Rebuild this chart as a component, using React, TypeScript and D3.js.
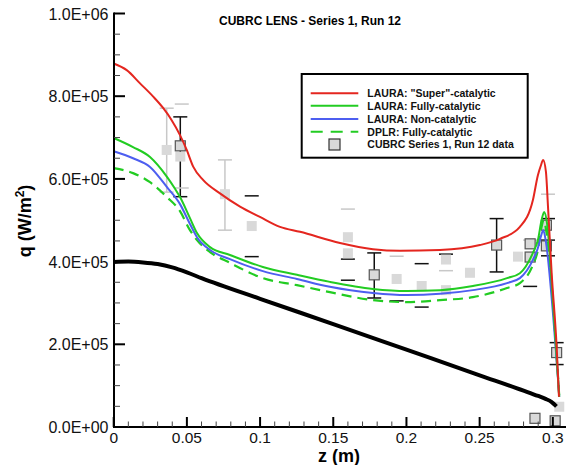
import React from "react";
import * as d3 from "d3";

const W = 566;
const H = 465;

const TITLE = "CUBRC LENS - Series 1, Run 12";
const X_TICKS = [0, 0.05, 0.1, 0.15, 0.2, 0.25, 0.3];
const X_TICK_LABELS = ["0", "0.05", "0.1", "0.15", "0.2", "0.25", "0.3"];
const Y_TICKS = [0, 2e5, 4e5, 6e5, 8e5, 1e6];
const Y_TICK_LABELS = ["0.0E+00", "2.0E+05", "4.0E+05", "6.0E+05", "8.0E+05", "1.0E+06"];

// LAURA "Super"-catalytic
const redZ = [0, 0.0089, 0.018, 0.027, 0.0339, 0.0396, 0.0453, 0.0499, 0.0544, 0.0612, 0.0726, 0.0863, 0.0999, 0.1136, 0.1273, 0.1546, 0.1771, 0.1956, 0.2229, 0.2502, 0.2639, 0.2775, 0.2864, 0.2898, 0.2919, 0.2934, 0.2953, 0.2967, 0.2992, 0.3026, 0.3042];
const redQ = [879e3, 863e3, 831e3, 799e3, 771e3, 742e3, 706e3, 670e3, 629e3, 597e3, 565e3, 533e3, 508e3, 484e3, 472e3, 445e3, 430e3, 426e3, 428e3, 440e3, 455e3, 484e3, 549e3, 609e3, 633e3, 646e3, 617e3, 533e3, 372e3, 194e3, 73e3];

// LAURA Fully-catalytic
const greenZ = [0, 0.0132, 0.0248, 0.0364, 0.0419, 0.0453, 0.0521, 0.0569, 0.0658, 0.0794, 0.1019, 0.1252, 0.1477, 0.1771, 0.2003, 0.2229, 0.2454, 0.2687, 0.2775, 0.2864, 0.2898, 0.2923, 0.2941, 0.2959, 0.3003, 0.3026, 0.3044];
const greenQ = [699e3, 677e3, 653e3, 605e3, 576e3, 556e3, 505e3, 469e3, 435e3, 416e3, 387e3, 368e3, 351e3, 334e3, 329e3, 331e3, 341e3, 360e3, 372e3, 421e3, 452e3, 500e3, 520e3, 496e3, 291e3, 170e3, 73e3];

// LAURA Non-catalytic
const blueZ = [0, 0.0132, 0.0248, 0.0364, 0.0453, 0.0521, 0.0569, 0.0658, 0.0794, 0.1019, 0.1252, 0.1477, 0.1771, 0.2003, 0.2229, 0.2454, 0.2687, 0.2775, 0.2864, 0.2898, 0.2921, 0.2935, 0.2951, 0.2999, 0.3026, 0.3044];
const blueQ = [667e3, 650e3, 629e3, 580e3, 539e3, 491e3, 459e3, 428e3, 406e3, 377e3, 358e3, 339e3, 324e3, 319e3, 322e3, 331e3, 348e3, 360e3, 404e3, 433e3, 464e3, 476e3, 452e3, 283e3, 162e3, 73e3];

// DPLR Fully-catalytic
const dplrZ = [0, 0.0132, 0.0248, 0.0364, 0.0453, 0.0521, 0.0569, 0.0658, 0.0794, 0.1019, 0.1252, 0.1477, 0.1771, 0.2003, 0.2229, 0.2454, 0.2687, 0.2775, 0.2864, 0.2898, 0.2921, 0.2938, 0.2959, 0.2999, 0.3026, 0.3044];
const dplrQ = [626e3, 614e3, 592e3, 556e3, 522e3, 476e3, 452e3, 423e3, 397e3, 360e3, 343e3, 326e3, 307e3, 302e3, 307e3, 314e3, 336e3, 348e3, 392e3, 428e3, 480e3, 500e3, 464e3, 307e3, 174e3, 73e3];

// black reference curve
const blackZ = [0, 0.01, 0.02, 0.03, 0.04, 0.05, 0.06, 0.1, 0.15, 0.2, 0.25, 0.28, 0.29, 0.295, 0.299, 0.3025];
const blackQ = [399e3, 400e3, 398e3, 394e3, 386e3, 374e3, 360e3, 310e3, 249e3, 187e3, 125e3, 88e3, 75e3, 68e3, 61e3, 50e3];

// CUBRC data squares
const dataZ = [0.0362, 0.0455, 0.076, 0.0943, 0.160, 0.160, 0.1933, 0.2104, 0.227, 0.227, 0.2434, 0.2762, 0.3044, 0.0455, 0.178, 0.2616, 0.2845, 0.2845, 0.2956, 0.2956, 0.3026, 0.2878, 0.3016];
const dataQ = [670e3, 654e3, 563e3, 486e3, 459e3, 420e3, 358e3, 341e3, 405e3, 331e3, 373e3, 412e3, 49e3, 680e3, 368e3, 440e3, 443e3, 411e3, 488e3, 438e3, 180e3, 21e3, 15e3];
const dataOutlined = [false, false, false, false, false, false, false, false, false, false, false, false, false, true, true, true, true, true, true, true, true, true, true];

// error bar stems
const stemZ = [0.0362, 0.0455, 0.076, 0.178, 0.2616, 0.3026];
const stemLow = [568e3, 557e3, 476e3, 312e3, 375e3, 151e3];
const stemHigh = [771e3, 750e3, 646e3, 421e3, 504e3, 204e3];
const stemDark = [false, true, false, true, true, true];

// error bar caps
const capZ = [0.0362, 0.0362, 0.0455, 0.0455, 0.0465, 0.0465, 0.076, 0.076, 0.0943, 0.0943, 0.160, 0.160, 0.160, 0.178, 0.178, 0.1933, 0.1933, 0.2104, 0.2104, 0.227, 0.227, 0.2616, 0.2616, 0.2845, 0.2845, 0.2967, 0.2967, 0.2967, 0.2967, 0.3026, 0.3026];
const capQ = [771e3, 568e3, 750e3, 557e3, 781e3, 578e3, 646e3, 476e3, 559e3, 412e3, 527e3, 406e3, 355e3, 421e3, 312e3, 413e3, 305e3, 395e3, 290e3, 418e3, 378e3, 504e3, 375e3, 340e3, 452e3, 563e3, 504e3, 452e3, 414e3, 204e3, 151e3];
const capDark = [false, false, true, true, false, false, false, false, true, true, false, true, true, true, true, false, true, true, true, true, false, true, true, true, false, false, true, true, true, true, true];

const LEGEND_LABELS = ['LAURA: "Super"-catalytic', "LAURA: Fully-catalytic", "LAURA: Non-catalytic", "DPLR: Fully-catalytic", "CUBRC Series 1, Run 12 data"];

const RED = "#e4261f";
const GREEN = "#22cc22";
const BLUE = "#4d5ef0";
const SQ_FILL = "#d9d9d9";
const FONT = "'Liberation Sans', Arial, Helvetica, sans-serif";

export default function App() {
  const x = d3.scaleLinear().domain([0, 0.309]).range([113.7, 566]);
  const y = d3.scaleLinear().domain([0, 1e6]).range([427, 13.5]);

  const line = d3
    .line<[number, number]>()
    .x((d) => x(d[0]))
    .y((d) => y(d[1]))
    .curve(d3.curveMonotoneX);

  const zip = (a: number[], b: number[]) => a.map((v, i) => [v, b[i]] as [number, number]);

  const xMinor = d3.range(0, 0.3101, 0.01).filter((v) => Math.abs(v / 0.05 - Math.round(v / 0.05)) > 1e-6);
  const yMinor = d3.range(0, 1e6 + 1, 5e4).filter((v) => v % 2e5 !== 0);

  const sq = 10;
  const legendX = 301.7;
  const legendY = 74;
  const rowY = [93.3, 105.8, 119, 131.7, 144.5];

  return (
    <svg width={W} height={H} style={{ position: "absolute", left: 0, top: 0, background: "#fff" }} fontFamily={FONT}>
      {/* title */}
      <text x={310} y={25} fontSize={12} fontWeight="bold" textAnchor="middle" fill="#000">
        {TITLE}
      </text>

      {/* error bars */}
      {stemZ.map((z, i) => (
        <line key={"s" + i} x1={x(z)} x2={x(z)} y1={y(stemLow[i])} y2={y(stemHigh[i])} stroke={stemDark[i] ? "#111" : "#c8c8c8"} strokeWidth={1.5} />
      ))}
      {capZ.map((z, i) => (
        <line key={"c" + i} x1={x(z) - 7} x2={x(z) + 7} y1={y(capQ[i])} y2={y(capQ[i])} stroke={capDark[i] ? "#111" : "#c8c8c8"} strokeWidth={1.5} />
      ))}

      {/* data squares */}
      {dataZ.map((z, i) => (
        <rect
          key={"d" + i}
          x={x(z) - sq / 2}
          y={y(dataQ[i]) - sq / 2}
          width={sq}
          height={sq}
          fill={SQ_FILL}
          stroke={dataOutlined[i] ? "#555" : "none"}
          strokeWidth={1.2}
        />
      ))}

      {/* curves */}
      <path d={line(zip(blackZ, blackQ)) || ""} fill="none" stroke="#000" strokeWidth={4} />
      <path d={line(zip(dplrZ, dplrQ)) || ""} fill="none" stroke={GREEN} strokeWidth={2.2} strokeDasharray="10,6" />
      <path d={line(zip(blueZ, blueQ)) || ""} fill="none" stroke={BLUE} strokeWidth={2} />
      <path d={line(zip(greenZ, greenQ)) || ""} fill="none" stroke={GREEN} strokeWidth={2} />
      <path d={line(zip(redZ, redQ)) || ""} fill="none" stroke={RED} strokeWidth={2} />

      {/* axes */}
      <line x1={114} x2={114} y1={12.5} y2={428} stroke="#000" strokeWidth={2} />
      <line x1={113} x2={566} y1={427} y2={427} stroke="#000" strokeWidth={2} />
      {Y_TICKS.map((t, i) => (
        <g key={"yt" + i}>
          <line x1={114} x2={125} y1={y(t)} y2={y(t)} stroke="#000" strokeWidth={2} />
          <text x={108.5} y={y(t) + 6} fontSize={16} textAnchor="end" fill="#111">
            {Y_TICK_LABELS[i]}
          </text>
        </g>
      ))}
      {yMinor.map((t, i) => (
        <line key={"ym" + i} x1={114} x2={120} y1={y(t)} y2={y(t)} stroke="#444" strokeWidth={1} />
      ))}
      {X_TICKS.map((t, i) => (
        <g key={"xt" + i}>
          <line x1={x(t)} x2={x(t)} y1={427} y2={417} stroke="#000" strokeWidth={2} />
          <text x={x(t)} y={442.5} fontSize={15.5} textAnchor="middle" fill="#111">
            {X_TICK_LABELS[i]}
          </text>
        </g>
      ))}
      {xMinor.map((t, i) => (
        <line key={"xm" + i} x1={x(t)} x2={x(t)} y1={427} y2={421.5} stroke="#444" strokeWidth={1} />
      ))}

      {/* axis labels */}
      <text x={339} y={462} fontSize={18} fontWeight="bold" textAnchor="middle" fill="#000">
        z (m)
      </text>
      <text transform="translate(31,221) rotate(-90)" fontSize={18} fontWeight="bold" textAnchor="middle" fill="#000">
        q (W/m<tspan dy={-7} fontSize={12}>2</tspan>
        <tspan dy={7}>)</tspan>
      </text>

      {/* legend */}
      <rect x={legendX} y={legendY} width={226} height={83.7} fill="#fff" stroke="#000" strokeWidth={2} />
      {[RED, GREEN, BLUE].map((c, i) => (
        <line key={"ll" + i} x1={310.7} x2={358.3} y1={rowY[i]} y2={rowY[i]} stroke={c} strokeWidth={2} />
      ))}
      <line x1={310.7} x2={358.3} y1={rowY[3]} y2={rowY[3]} stroke={GREEN} strokeWidth={2} strokeDasharray="12,8" />
      <rect x={329} y={rowY[4] - 5.5} width={11} height={11} fill={SQ_FILL} stroke="#333" strokeWidth={1.2} />
      {LEGEND_LABELS.map((l, i) => (
        <text key={"lt" + i} x={367.3} y={rowY[i] + 3.8} fontSize={10.5} fontWeight="bold" fill="#111">
          {l}
        </text>
      ))}
    </svg>
  );
}
